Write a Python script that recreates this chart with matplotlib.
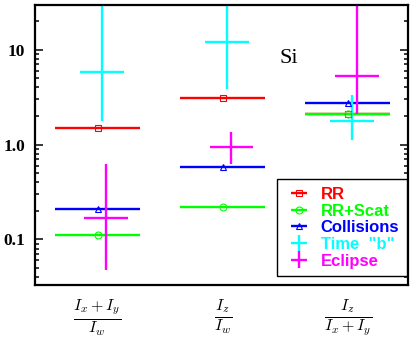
import matplotlib
matplotlib.use("Agg")
import matplotlib.pyplot as plt

plt.rcParams['mathtext.fontset'] = 'cm'

# category positions and labels
cat_x = [1, 2, 3]
cat_labels = [r'$\frac{I_x+I_y}{I_w}$', r'$\frac{I_z}{I_w}$', r'$\frac{I_z}{I_x+I_y}$']

# series values
rr = [1.5, 3.1, 2.08]
rr_scat = [0.11, 0.22, 2.08]
collisions = [0.21, 0.58, 2.75]
time_b = [5.8, 12.0, 1.78]
time_b_lo = [1.76, 3.86, 1.12]
time_b_hi = [100.0, 100.0, 3.3]
eclipse = [0.17, 0.95, 5.3]
eclipse_lo = [0.048, 0.62, 2.1]
eclipse_hi = [0.63, 1.34, 100.0]

fig = plt.figure(figsize=(4.15, 3.41), dpi=100, facecolor='white')
ax = fig.add_axes([0.0843, 0.164, 0.8987, 0.821])

lw = 1.7
ax.errorbar(cat_x, rr, xerr=0.34, ls='none', marker='s', ms=4.5, mfc='none', mew=0.8,
            color='red', elinewidth=lw, capsize=0, label='RR')
ax.errorbar(cat_x, rr_scat, xerr=0.34, ls='none', marker='o', ms=5, mfc='none', mew=0.8,
            color='#00ff00', elinewidth=lw, capsize=0, label='RR+Scat')
ax.errorbar(cat_x, collisions, xerr=0.34, ls='none', marker='^', ms=5, mfc='none', mew=0.8,
            color='blue', elinewidth=lw, capsize=0, label='Collisions')

tx = [x + 0.035 for x in cat_x]
ty_err = [[v - lo for v, lo in zip(time_b, time_b_lo)], [hi - v for v, hi in zip(time_b, time_b_hi)]]
ax.errorbar(tx, time_b, xerr=0.175, yerr=ty_err, ls='none', marker='none',
            color='cyan', elinewidth=lw, capsize=0, label='Time  "b"')

ex = [x + 0.07 for x in cat_x]
ey_err = [[v - lo for v, lo in zip(eclipse, eclipse_lo)], [hi - v for v, hi in zip(eclipse, eclipse_hi)]]
ax.errorbar(ex, eclipse, xerr=0.175, yerr=ey_err, ls='none', marker='none',
            color='magenta', elinewidth=lw, capsize=0, label='Eclipse')

ax.set_yscale('log')
ax.set_ylim(0.033, 29.5)
ax.set_xlim(0.5, 3.48)
ax.set_yticks([0.1, 1.0, 10])
ax.set_yticklabels(['0.1', '1.0', '10'], family='Liberation Serif', weight='bold', fontsize=12.5)
ax.set_xticks(cat_x)
ax.set_xticklabels(cat_labels, fontsize=16.5)
ax.tick_params(axis='x', length=0, pad=9)
ax.tick_params(axis='y', which='major', direction='in', length=6, width=1.1, right=True, pad=7)
ax.tick_params(axis='y', which='minor', direction='in', length=3, width=1.1, right=True)
for s in ax.spines.values():
    s.set_linewidth(1.6)

ax.text(0.681, 0.81, 'Si', transform=ax.transAxes, family='Liberation Serif',
        fontsize=16, ha='center', va='center')

leg = ax.legend(loc='lower right', bbox_to_anchor=(0.997, 0.032), borderaxespad=0,
                fancybox=False, edgecolor='black', framealpha=1, handlelength=1.7,
                handletextpad=0.45, labelspacing=0.1, borderpad=0.45,
                prop={'family': 'Liberation Sans', 'weight': 'bold', 'size': 12})
leg.get_frame().set_linewidth(1.0)
for t, c in zip(leg.get_texts(), ['red', '#00ff00', 'blue', 'cyan', 'magenta']):
    t.set_color(c)

plt.savefig('out.png', dpi=100, facecolor='white')
